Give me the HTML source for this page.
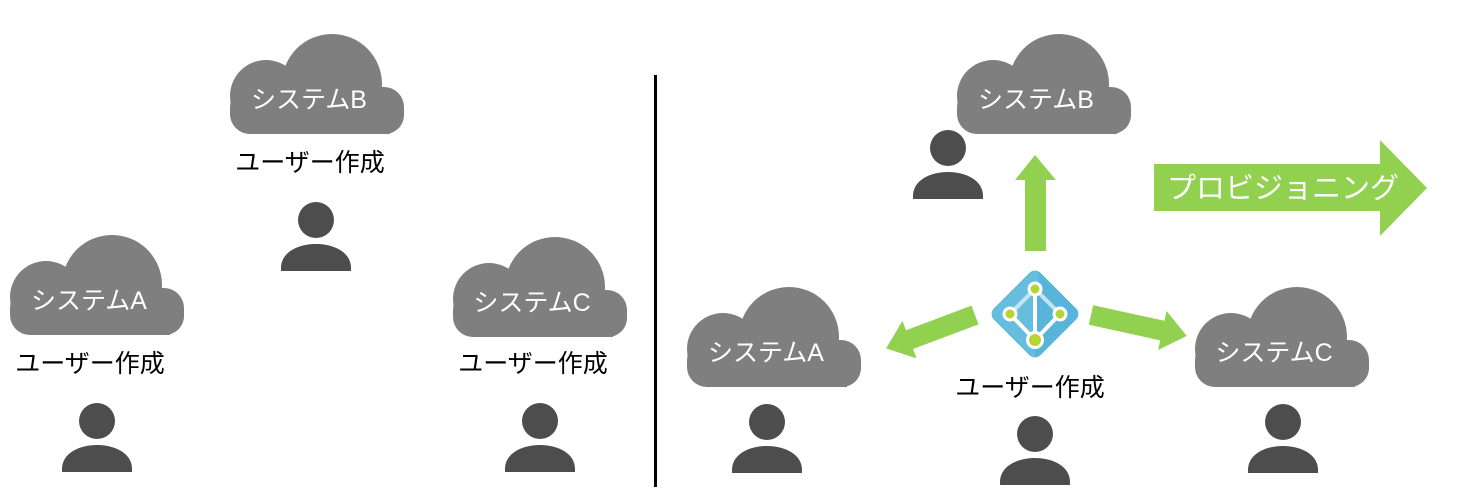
<!DOCTYPE html>
<html><head><meta charset="utf-8"><style>
html,body{margin:0;padding:0;background:#fff;width:1461px;height:489px;overflow:hidden}
text{font-family:"Liberation Sans","Noto Sans CJK JP",sans-serif}
</style></head><body>
<svg width="1461" height="489" viewBox="0 0 1461 489" xmlns="http://www.w3.org/2000/svg">
<defs>
<g id="cloud" fill="#7f7f7f">
<circle cx="102" cy="52" r="50"/>
<circle cx="36" cy="64" r="36"/>
<circle cx="155" cy="83" r="19"/>
<rect x="0" y="55" width="174" height="47" rx="20"/>
<rect x="20" y="60" width="140" height="42"/>
</g>
<g id="person" fill="#4d4d4d">
<circle cx="0" cy="18" r="18"/>
<path d="M-35 69 L-35 66 C-35 34 35 34 35 66 L35 69 Z"/>
</g>
</defs>

<g font-size="25">
<use href="#cloud" x="230" y="32"/>
<text x="309" y="108" fill="#fff" text-anchor="middle">システムB</text>
<text x="310" y="171" fill="#000" text-anchor="middle">ユーザー作成</text>
<use href="#person" x="316" y="202"/>

<use href="#cloud" x="10" y="233"/>
<text x="89" y="309" fill="#fff" text-anchor="middle">システムA</text>
<text x="90" y="372" fill="#000" text-anchor="middle">ユーザー作成</text>
<use href="#person" x="97" y="403"/>

<use href="#cloud" x="453" y="235"/>
<text x="532" y="311" fill="#fff" text-anchor="middle">システムC</text>
<text x="533" y="372" fill="#000" text-anchor="middle">ユーザー作成</text>
<use href="#person" x="540" y="403"/>

<rect x="654" y="75" width="3" height="412" fill="#000"/>

<use href="#cloud" x="957" y="32"/>
<text x="1036" y="108" fill="#fff" text-anchor="middle">システムB</text>
<use href="#person" x="948" y="130"/>

<use href="#cloud" x="687" y="285"/>
<text x="766" y="361" fill="#fff" text-anchor="middle">システムA</text>
<use href="#person" x="767" y="404"/>

<use href="#cloud" x="1195" y="285"/>
<text x="1274" y="361" fill="#fff" text-anchor="middle">システムC</text>
<use href="#person" x="1283" y="404"/>

<text x="1030" y="396" fill="#000" text-anchor="middle">ユーザー作成</text>
<use href="#person" x="1035" y="416"/>
</g>

<polygon fill="#92d050" points="1025,251 1046,251 1046,180 1056,180 1035,155 1015,180 1025,180"/>
<g transform="translate(975,315) rotate(159.4)">
<polygon fill="#92d050" points="0,-10 70,-10 70,-20 95,0 70,20 70,10 0,10"/>
</g>
<g transform="translate(1091,315) rotate(12.3)">
<polygon fill="#92d050" points="0,-10 73,-10 73,-20 98,0 73,20 73,10 0,10"/>
</g>
<polygon fill="#92d050" points="1154,164 1380,164 1380,140 1427,188 1380,236 1380,211 1154,211"/>
<text x="1167" y="198" font-size="29" fill="#fff">プロビジョニング</text>

<g transform="translate(1035,314)">
<rect x="-33" y="-33" width="66" height="66" rx="8" transform="rotate(45)" fill="#59b4d9"/>
<path d="M-41 -4 L-4 -41 Q0 -45 4 -41 L0 0 L0 42 Q-2 44 -4 41 L-41 4 Q-45 0 -41 -4 Z" fill="#6dc0e0" opacity="0.7"/>
<line x1="0" y1="-25" x2="-25" y2="0" stroke="#c4e4f2" stroke-width="4"/>
<line x1="0" y1="-25" x2="25" y2="0" stroke="#c4e4f2" stroke-width="4"/>
<line x1="0" y1="-25" x2="0" y2="26" stroke="#fff" stroke-width="4"/>
<line x1="0" y1="26" x2="-25" y2="0" stroke="#fff" stroke-width="4"/>
<line x1="0" y1="26" x2="25" y2="0" stroke="#fff" stroke-width="4"/>
<circle cx="0" cy="-25" r="6" fill="#b8d432" stroke="#fff" stroke-width="3"/>
<circle cx="-25" cy="0" r="6" fill="#b8d432" stroke="#fff" stroke-width="3"/>
<circle cx="25" cy="0" r="6" fill="#b8d432" stroke="#fff" stroke-width="3"/>
<circle cx="0" cy="26" r="7.5" fill="#b8d432" stroke="#fff" stroke-width="3"/>
</g>
</svg>
</body></html>
